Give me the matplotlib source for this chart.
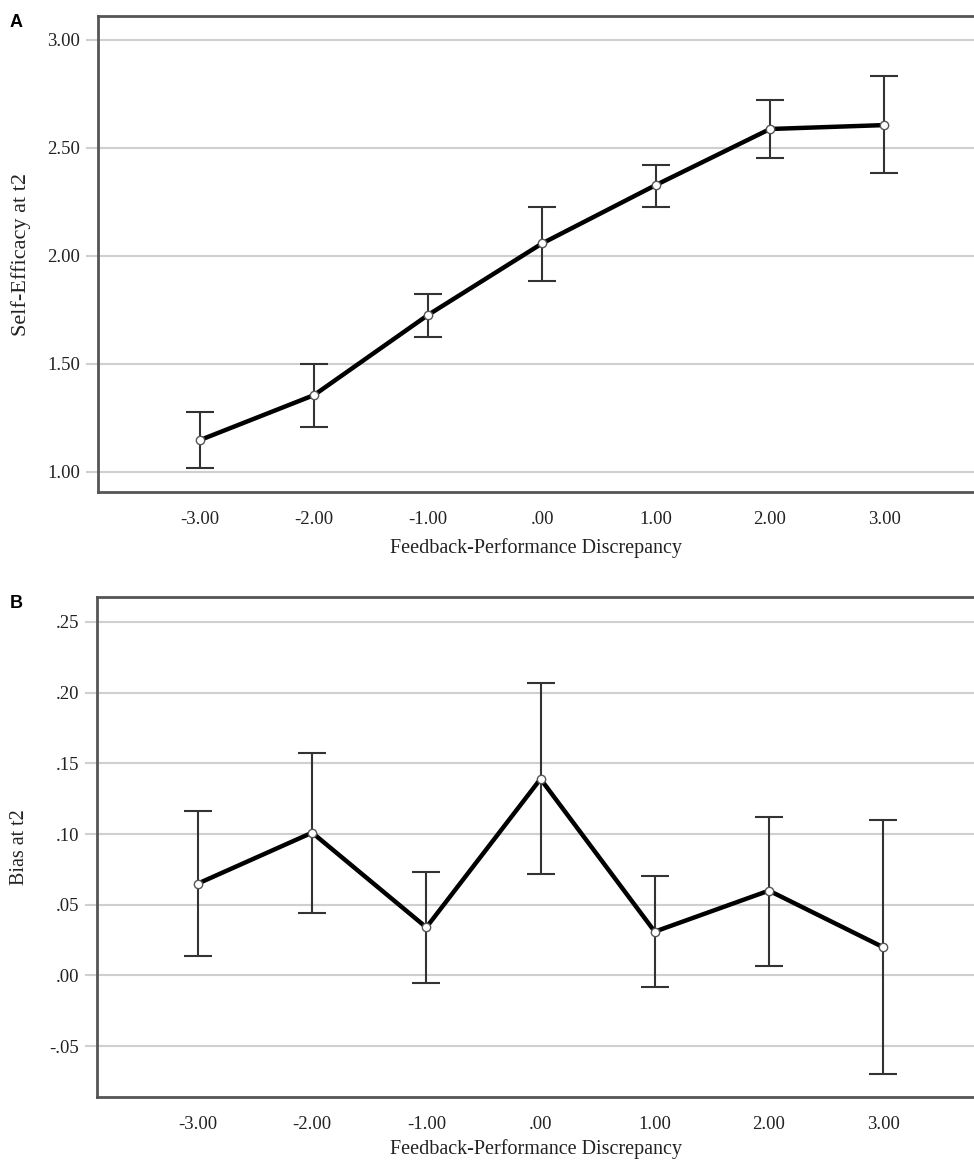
import numpy as np
import matplotlib
matplotlib.use("Agg")
import matplotlib.pyplot as plt

plt.rcParams['font.family'] = ['Liberation Serif', 'DejaVu Serif']

# data
discrepancy = [-3, -2, -1, 0, 1, 2, 3]
tick_labels = ['-3.00', '-2.00', '-1.00', '.00', '1.00', '2.00', '3.00']

se_mean = [1.148, 1.356, 1.727, 2.058, 2.329, 2.588, 2.606]
se_low = [1.017, 1.210, 1.626, 1.885, 2.227, 2.454, 2.386]
se_high = [1.276, 1.499, 1.823, 2.225, 2.421, 2.722, 2.833]
se_ticks = [1.0, 1.5, 2.0, 2.5, 3.0]
se_ticklabels = ['1.00', '1.50', '2.00', '2.50', '3.00']

bias_mean = [0.065, 0.101, 0.034, 0.139, 0.031, 0.060, 0.020]
bias_low = [0.014, 0.044, -0.005, 0.072, -0.008, 0.007, -0.070]
bias_high = [0.116, 0.157, 0.073, 0.207, 0.070, 0.112, 0.110]
bias_ticks = [-0.05, 0.0, 0.05, 0.10, 0.15, 0.20, 0.25]
bias_ticklabels = ['-.05', '.00', '.05', '.10', '.15', '.20', '.25']

W, H = 974, 1165
fig = plt.figure(figsize=(W / 100, H / 100), dpi=100)

grid_col = '#cfcfcf'
frame_col = '#555555'
fs = 13.5
lab_fs = 14.5


def rect_top_px(rect):
    return (1 - rect[1] - rect[3]) * H


def panel(rect, xlim, ylim, mean, lo, hi, yticks, ylabels, ylabel, tag, xlab_y, ylab_fs):
    ax = fig.add_axes(rect)
    mean = np.array(mean)
    yerr = [mean - np.array(lo), np.array(hi) - mean]
    ax.errorbar(discrepancy, mean, yerr=yerr, fmt='none', ecolor='#333333',
                elinewidth=1.5, capsize=10, capthick=1.5, zorder=3)
    ax.plot(discrepancy, mean, color='black', lw=3.2, zorder=4)
    ax.plot(discrepancy, mean, 'o', ms=6, mfc='white', mec='#555555', mew=1, zorder=5)
    ax.set_xlim(*xlim)
    ax.set_ylim(*ylim)
    ax.set_yticks(yticks)
    ax.set_yticklabels(ylabels)
    ax.set_xticks(discrepancy)
    ax.set_xticklabels(tick_labels)
    ax.yaxis.grid(True, color=grid_col, lw=1.5)
    ax.set_axisbelow(True)
    ax.tick_params(axis='y', length=9, width=1.5, color=grid_col, pad=4,
                   labelsize=fs, labelcolor='#222222')
    ax.tick_params(axis='x', length=0, pad=14, labelsize=fs, labelcolor='#222222')
    for s in ['left', 'top', 'bottom']:
        ax.spines[s].set_color(frame_col)
        ax.spines[s].set_linewidth(2)
    ax.spines['right'].set_visible(False)
    ax.set_ylabel(ylabel, fontsize=ylab_fs, color='#222222')
    ax.yaxis.set_label_coords(-0.077, 0.5)
    ax.set_xlabel('Feedback-Performance Discrepancy', fontsize=lab_fs, color='#222222')
    ax.xaxis.set_label_coords(0.5, xlab_y)
    fig.text(10 / W, 1 - (rect_top_px(rect) - 2) / H, tag, family='Liberation Sans',
             fontweight='bold', fontsize=13, va='top', ha='left')
    return ax


# panel A: axes spans x 98..974, y 16..492 px
rectA = [98 / W, 1 - 492 / H, 876 / W, 476 / H]
panel(rectA, (-3.895, -3.895 + 876 / 114), (1.0 - 20 / 216, 3.0 + 24 / 216),
      se_mean, se_low, se_high, se_ticks, se_ticklabels, 'Self-Efficacy at t2', 'A',
      -0.097, 16)

# panel B: axes spans x 97..974, y 597..1097 px
rectB = [97 / W, 1 - 1097 / H, 877 / W, 500 / H]
panel(rectB, (-3.884, -3.884 + 877 / 114.2), (-0.05 - 51 / 1420, 0.25 + 25 / 1420),
      bias_mean, bias_low, bias_high, bias_ticks, bias_ticklabels, 'Bias at t2', 'B',
      -0.084, lab_fs)

fig.savefig('out.png', dpi=100)
